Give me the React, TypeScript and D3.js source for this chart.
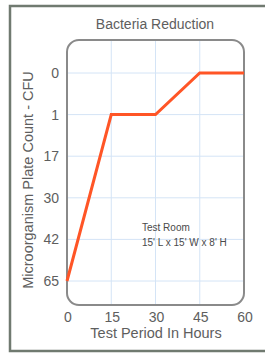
import { useEffect, useRef } from "react";
import * as d3 from "d3";

const hours = [0, 15, 30, 45, 60];
const counts = ["65", "1", "1", "0", "0"];
const countLevels = ["0", "1", "17", "30", "42", "65"];
const xTicks = [0, 15, 30, 45, 60];

export default function App() {
  const ref = useRef<SVGSVGElement>(null);

  useEffect(() => {
    if (!ref.current) return;
    const svg = d3.select(ref.current);
    svg.selectAll("*").remove();

    const W = 265;
    const H = 353;
    const left = 67, right = 244, top = 40, bottom = 305;

    const x = d3.scaleLinear().domain([0, 60]).range([left, right]);
    const y = d3.scalePoint<string>().domain(countLevels).range([73, 281]);

    svg.attr("width", W).attr("height", H).style("font-family", "Liberation Sans, Arial, sans-serif");

    svg.append("rect").attr("width", W).attr("height", H).attr("fill", "#fff");

    // outer frame
    svg.append("path")
      .attr("d", `M${W + 5},6 H10 V351 H${W + 5}`)
      .attr("fill", "none")
      .attr("stroke", "#707a70")
      .attr("stroke-width", 2.5);

    // grid
    const grid = svg.append("g").attr("stroke", "#d4e4f6").attr("stroke-width", 1);
    grid.selectAll("line.h")
      .data(countLevels)
      .join("line")
      .attr("class", "h")
      .attr("x1", left)
      .attr("x2", right)
      .attr("y1", (d) => y(d)!)
      .attr("y2", (d) => y(d)!);
    grid.selectAll("line.v")
      .data(xTicks.slice(1, -1))
      .join("line")
      .attr("class", "v")
      .attr("x1", (d) => x(d))
      .attr("x2", (d) => x(d))
      .attr("y1", top)
      .attr("y2", bottom);

    // plot frame
    svg.append("rect")
      .attr("x", left)
      .attr("y", top)
      .attr("width", right - left)
      .attr("height", bottom - top)
      .attr("rx", 12)
      .attr("fill", "none")
      .attr("stroke", "#8a8a8a")
      .attr("stroke-width", 2);

    // line
    const line = d3.line<number>()
      .x((d) => x(hours[d]))
      .y((d) => y(counts[d])!);
    svg.append("path")
      .attr("d", line(d3.range(hours.length)))
      .attr("fill", "none")
      .attr("stroke", "#ff5526")
      .attr("stroke-width", 3)
      .attr("stroke-linejoin", "miter");

    const txt = "#5e5e5e";

    // y ticks
    svg.append("g")
      .selectAll("text")
      .data(countLevels)
      .join("text")
      .attr("x", 59)
      .attr("y", (d) => y(d)!)
      .attr("dy", "0.35em")
      .attr("text-anchor", "end")
      .attr("font-size", 14)
      .attr("fill", txt)
      .text((d) => d);

    // x ticks
    svg.append("g")
      .selectAll("text")
      .data(xTicks)
      .join("text")
      .attr("x", (d) => x(d) + 1)
      .attr("y", 322)
      .attr("text-anchor", "middle")
      .attr("font-size", 14)
      .attr("fill", txt)
      .text((d) => d);

    svg.append("text")
      .attr("x", 155)
      .attr("y", 29)
      .attr("text-anchor", "middle")
      .attr("font-size", 14)
      .attr("fill", txt)
      .text("Bacteria Reduction");

    svg.append("text")
      .attr("x", 156)
      .attr("y", 338)
      .attr("text-anchor", "middle")
      .attr("font-size", 14.5)
      .attr("fill", txt)
      .text("Test Period In Hours");

    svg.append("text")
      .attr("transform", `translate(33,180) rotate(-90)`)
      .attr("text-anchor", "middle")
      .attr("font-size", 14.5)
      .attr("fill", txt)
      .text("Microorganism Plate Count - CFU");

    const note = svg.append("g").attr("font-size", 10).attr("fill", "#4a4a4a");
    note.append("text").attr("x", 142).attr("y", 231).text("Test Room");
    note.append("text").attr("x", 142).attr("y", 246).text("15' L x 15' W x 8' H");
  }, []);

  return <svg ref={ref} style={{ position: "absolute", left: 0, top: 0 }} />;
}
